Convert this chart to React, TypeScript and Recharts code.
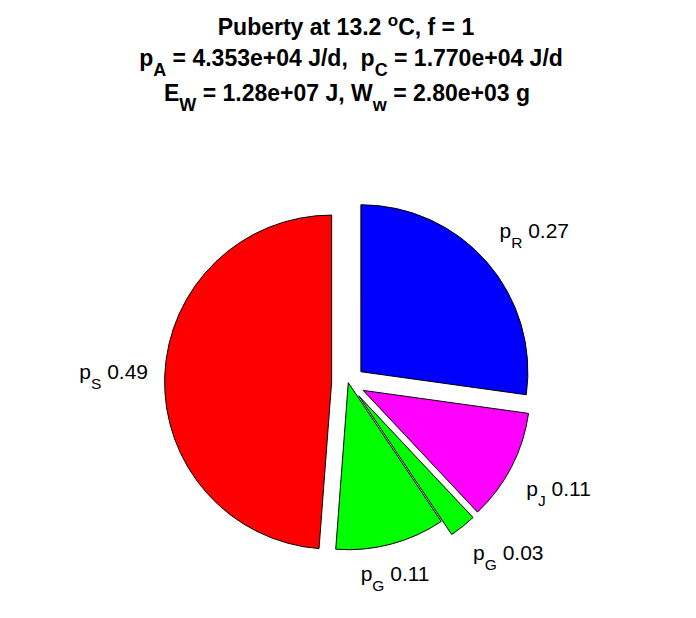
import React from 'react';
import { PieChart, Pie, Cell } from 'recharts';

const sliceNames = ['R', 'J', 'G', 'G', 'S'];
const sliceValues = [0.272, 0.108, 0.026, 0.106, 0.488];
const sliceColors = ['#0000ff', '#ff00ff', '#00ff00', '#00ff00', '#ff0000'];
const explodeFlags = [1, 1, 1, 0, 1];

const data = sliceValues.map((v, i) => ({ name: sliceNames[i], value: v }));

const CX = 348.3;
const CY = 382.7;
const RADIUS = 167;
const FONT = '"Liberation Sans", Arial, Helvetica, sans-serif';
const RAD = Math.PI / 180;

const total = sliceValues.reduce((a, b) => a + b, 0);
const midAngles: number[] = [];
{
  let cum = 0;
  for (const v of sliceValues) {
    midAngles.push(90 - (360 * (cum + v / 2)) / total);
    cum += v;
  }
}

function renderLabel(idx: number) {
  return (props: any) => {
    if (props.index !== idx) return null;
    const r = props.outerRadius * 1.1;
    const c = Math.cos(-props.midAngle * RAD);
    const s = Math.sin(-props.midAngle * RAD);
    const x = props.cx + r * c;
    const y = props.cy + r * s;
    const anchor = c > 0.3 ? 'start' : c < -0.3 ? 'end' : 'middle';
    const up = -s;
    const baseline = up > 0.3 ? y - 13 : up < -0.3 ? y + 21 : y + 4;
    return (
      <text
        key={`lbl-${idx}`}
        x={x}
        y={baseline}
        textAnchor={anchor}
        fontFamily={FONT}
        fontSize={21}
        fill="#000"
        xmlSpace="preserve"
      >
        <tspan>p</tspan>
        <tspan dy={10} fontSize={15.5}>{sliceNames[idx]}</tspan>
        <tspan dy={-10}>{' ' + sliceValues[idx].toFixed(2)}</tspan>
      </text>
    );
  };
}

export default function App() {
  return (
    <div style={{ position: 'absolute', left: 0, top: 0, width: 696, height: 618, background: '#fff' }}>
      <div style={{ position: 'absolute', left: 0, top: 0 }}>
        <PieChart width={696} height={618} margin={{ top: 0, right: 0, bottom: 0, left: 0 }}>
          {sliceValues.map((_, i) => {
            const m = midAngles[i];
            const off = explodeFlags[i] * 0.1 * RADIUS;
            const cx = CX + off * Math.cos(m * RAD);
            const cy = CY - off * Math.sin(m * RAD);
            return (
              <Pie
                key={`pie-${i}`}
                data={data}
                dataKey="value"
                nameKey="name"
                cx={cx}
                cy={cy}
                innerRadius={0}
                outerRadius={RADIUS}
                startAngle={90}
                endAngle={-270}
                paddingAngle={0}
                isAnimationActive={false}
                labelLine={false}
                label={renderLabel(i)}
              >
                {data.map((_, j) => (
                  <Cell
                    key={`c-${i}-${j}`}
                    fill={j === i ? sliceColors[j] : 'none'}
                    stroke={j === i ? '#000' : 'none'}
                    strokeWidth={1}
                  />
                ))}
              </Pie>
            );
          })}
        </PieChart>
      </div>
      <svg
        width={696}
        height={130}
        style={{ position: 'absolute', left: 0, top: 0, pointerEvents: 'none' }}
      >
        <g fontFamily={FONT} fontWeight="bold" fontSize={23} fill="#000" textAnchor="middle">
          <text x={346} y={35} xmlSpace="preserve">
            <tspan>Puberty at 13.2 </tspan>
            <tspan dy={-9} fontSize={17}>o</tspan>
            <tspan dy={9}>C, f = 1</tspan>
          </text>
          <text x={351} y={66} xmlSpace="preserve">
            <tspan>p</tspan>
            <tspan dy={10} fontSize={18}>A</tspan>
            <tspan dy={-10}>{' = 4.353e+04 J/d,  p'}</tspan>
            <tspan dy={10} fontSize={18}>C</tspan>
            <tspan dy={-10}> = 1.770e+04 J/d</tspan>
          </text>
          <text x={347} y={101} xmlSpace="preserve">
            <tspan>E</tspan>
            <tspan dy={10} fontSize={18}>W</tspan>
            <tspan dy={-10}> = 1.28e+07 J, W</tspan>
            <tspan dy={10} fontSize={18}>w</tspan>
            <tspan dy={-10}> = 2.80e+03 g</tspan>
          </text>
        </g>
      </svg>
    </div>
  );
}
